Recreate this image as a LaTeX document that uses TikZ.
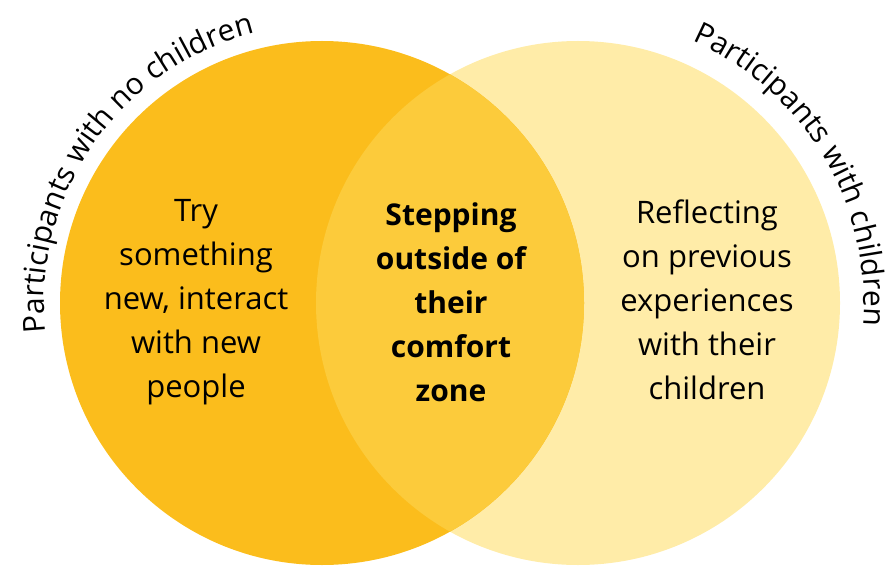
\documentclass[tikz,border=0pt]{standalone}
\usepackage{fontspec}
\setmainfont{Open Sans}
\usetikzlibrary{decorations.text}
\definecolor{darkgold}{HTML}{FBBD1C}
\definecolor{midgold}{HTML}{FCCB3B}
\definecolor{palegold}{HTML}{FFECA8}
\begin{document}
\begin{tikzpicture}[%
      x=1pt, y=1pt,
      venntext/.style={align=center, inner sep=0pt, font=\fontsize{31}{44}\selectfont},
      arclabel/.style={decorate, decoration={text along path, text align=center,
        text={|\fontsize{30}{30}\selectfont|#1}}}
    ]
    \useasboundingbox (0,0) rectangle (889,566);
    % the two sets
    \coordinate (lc) at (322,263);
    \coordinate (rc) at (578,263);
    \fill [palegold] (rc) circle [radius=262];
    \fill [darkgold] (lc) circle [radius=262];
    \begin{scope}
      \clip (lc) circle [radius=262];
      \fill [midgold] (rc) circle [radius=262];
    \end{scope}
    % set names along the rims
    \path [arclabel={Participants with no children}] (lc) ++(205:278) arc [start angle=205, end angle=85, radius=278];
    \path [arclabel={Participants with children}] (rc) ++(91:286) arc [start angle=91, end angle=-29, radius=286];
    % contents
    \node [venntext] (nochild) at (196,264) {Try\\something\\new, interact\\with new\\people};
    \node [venntext, font=\fontsize{30}{44}\selectfont\bfseries] (both) at (451,264) {Stepping\\outside of\\their\\comfort\\zone};
    \node [venntext] (withchild) at (707,266) {Reflecting\\on previous\\experiences\\with their\\children};
\end{tikzpicture}
\end{document}
